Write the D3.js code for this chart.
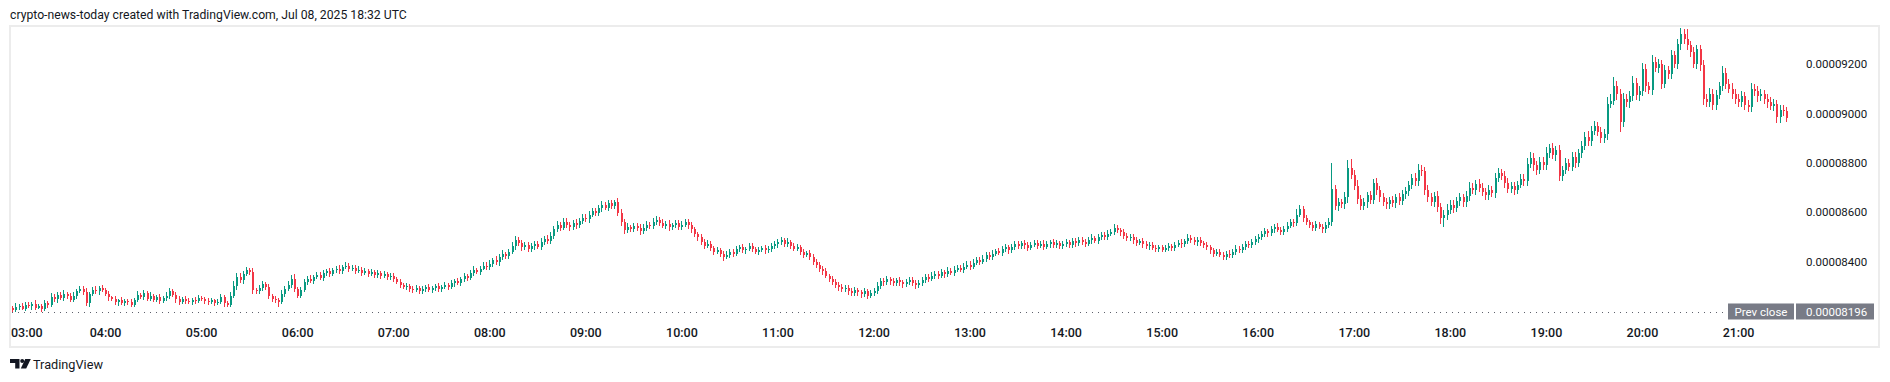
<!DOCTYPE html>
<html><head><meta charset="utf-8">
<script src="https://cdn.jsdelivr.net/npm/d3@7"></script>
<style>
html,body{margin:0;padding:0;background:#fff;}
svg{display:block;}
</style></head><body>
<svg id="chart" width="1890" height="382"></svg>
<script>
// ---- DATA (prices in units of 1e-8) ----
const priceUnit = 1e-8;
const barMinutes = 2;
const firstOpen = 8205;
const prevClose = 8196;
const priceTicks = [8400, 8600, 8800, 9000, 9200];
const timeLabels = ["03:00","04:00","05:00","06:00","07:00","08:00","09:00","10:00","11:00","12:00","13:00","14:00","15:00","16:00","17:00","18:00","19:00","20:00","21:00"];
const titleText = "crypto-news-today created with TradingView.com, Jul 08, 2025 18:32 UTC";

const closes = [
// 03
8212,8205,8218,8222,8210,8226,8219,8230,8214,8221,8208,8232,8225,8258,8247,8266,8252,8270,8261,8246,8262,8281,8290,8276,8232,8268,8287,8279,8292,8284,
// 04
8270,8255,8248,8236,8244,8231,8240,8238,8226,8243,8265,8258,8272,8250,8262,8245,8256,8240,8252,8260,8282,8266,8247,8236,8249,8241,8235,8246,8239,8252,
// 05
8248,8240,8236,8244,8232,8238,8255,8232,8226,8262,8300,8338,8325,8350,8366,8357,8285,8279,8292,8310,8296,8262,8250,8245,8238,8270,8290,8305,8330,8290,
// 06
8262,8285,8318,8330,8322,8338,8346,8335,8352,8360,8348,8365,8372,8361,8378,8384,8370,8376,8362,8368,8355,8362,8350,8357,8345,8352,8340,8348,8336,8342,
// 07
8330,8318,8305,8296,8302,8290,8284,8292,8280,8288,8296,8284,8292,8300,8288,8296,8305,8298,8312,8320,8312,8328,8340,8334,8352,8366,8358,8372,8384,8378,
// 08
8392,8405,8398,8418,8430,8422,8440,8462,8488,8476,8458,8466,8450,8462,8472,8460,8478,8492,8484,8505,8530,8548,8538,8562,8550,8540,8556,8548,8566,8578,
// 09
8572,8590,8604,8596,8615,8628,8618,8636,8625,8640,8598,8560,8528,8540,8532,8545,8536,8524,8538,8550,8545,8562,8570,8558,8546,8552,8540,8548,8556,8542,
// 10
8550,8562,8548,8530,8512,8498,8480,8465,8472,8455,8440,8448,8432,8420,8428,8440,8432,8450,8458,8445,8452,8462,8450,8440,8448,8456,8445,8452,8462,8470,
// 11
8478,8486,8472,8480,8465,8452,8458,8440,8428,8435,8418,8400,8385,8372,8360,8342,8330,8318,8305,8296,8288,8295,8280,8272,8284,8276,8268,8280,8262,8272,
// 12
8282,8300,8322,8316,8328,8320,8312,8324,8316,8308,8318,8326,8315,8305,8312,8326,8338,8330,8342,8350,8342,8356,8348,8362,8355,8368,8376,8366,8380,8388,
// 13
8380,8395,8408,8400,8412,8425,8418,8432,8442,8436,8450,8458,8446,8460,8470,8462,8474,8466,8456,8468,8476,8465,8472,8460,8470,8478,8466,8474,8462,8470,
// 14
8478,8468,8482,8474,8488,8480,8472,8486,8495,8485,8498,8508,8500,8512,8520,8535,8528,8518,8504,8495,8500,8486,8476,8482,8470,8462,8468,8456,8450,8458,
// 15
8448,8455,8462,8455,8468,8476,8470,8482,8496,8488,8478,8486,8475,8468,8458,8445,8432,8440,8428,8420,8432,8425,8440,8452,8445,8460,8472,8466,8480,8490,
// 16
8498,8510,8522,8515,8530,8542,8528,8520,8534,8546,8560,8556,8590,8612,8575,8560,8548,8538,8552,8540,8530,8548,8562,8692,8625,8640,8632,8660,8780,8752,
// 17
8708,8655,8625,8640,8668,8650,8720,8690,8660,8640,8632,8648,8636,8660,8645,8672,8686,8710,8740,8725,8770,8765,8690,8660,8640,8665,8620,8575,8590,8610,
// 18
8630,8615,8645,8660,8640,8665,8700,8690,8715,8700,8680,8668,8690,8676,8740,8758,8745,8720,8695,8705,8690,8712,8735,8725,8795,8820,8790,8770,8805,8790,
// 19
8840,8860,8830,8850,8745,8770,8800,8785,8825,8800,8840,8870,8905,8890,8930,8950,8925,8900,8915,9040,9050,9110,9080,8965,9060,9045,9070,9125,9075,9090,
// 20
9180,9110,9095,9210,9185,9200,9120,9175,9160,9235,9200,9280,9320,9300,9275,9250,9200,9260,9195,9060,9045,9080,9035,9075,9110,9165,9120,9100,9080,9060,
// 21
9045,9070,9035,9025,9100,9090,9070,9080,9060,9045,9030,9040,8985,9015,9010,8982
];

const wickUp = [
10,7,14,6,12,9,11,8,15,6,9,13,7,16,10,12,9,15,8,11,14,9,12,10,16,7,11,13,9,12,
9,12,7,11,6,13,9,8,12,10,15,8,11,9,13,7,10,12,9,15,10,8,9,12,6,10,13,8,9,11,
10,8,12,9,6,11,13,8,9,16,20,14,15,12,14,10,16,9,13,11,9,12,8,11,9,14,10,15,16,18,
9,13,12,10,15,9,12,10,14,9,15,10,12,13,9,16,10,12,9,13,10,12,9,15,10,12,9,13,10,12,
10,9,13,8,12,9,10,13,8,12,9,13,10,8,12,9,13,10,12,9,15,10,12,9,13,15,10,12,13,16,
13,10,16,12,15,10,13,16,15,12,10,13,15,12,10,13,16,12,15,13,16,15,12,13,16,10,13,15,12,16,
13,16,12,15,13,16,12,15,13,10,16,13,12,15,10,13,12,15,13,16,12,15,13,10,13,12,15,10,13,12,
15,12,10,13,12,9,13,10,15,12,10,13,9,12,15,10,13,12,10,13,9,12,15,10,13,9,12,10,13,15,
12,13,10,15,9,12,13,10,12,9,10,13,9,12,10,13,9,12,10,13,12,9,10,13,12,9,10,13,9,12,
10,16,13,10,12,9,13,10,12,9,13,10,12,9,13,12,10,13,15,10,12,13,10,15,12,13,10,12,15,13,
13,15,12,10,13,15,12,13,10,12,15,12,10,13,12,15,10,12,13,10,12,13,10,15,12,10,13,12,10,13,
12,10,13,15,12,10,13,12,15,10,13,12,10,15,13,16,12,10,13,12,10,13,12,10,13,12,10,13,12,10,
10,13,12,10,13,12,15,10,16,12,10,13,12,10,13,9,12,10,13,12,10,13,12,15,10,13,12,10,13,15,
13,12,15,10,13,12,15,13,10,16,13,12,22,16,13,12,10,13,12,10,13,12,15,108,18,16,15,22,32,36,
18,22,16,18,15,17,16,20,15,18,16,14,17,15,18,16,15,18,16,20,25,20,18,22,16,18,20,16,18,22,
18,20,16,18,15,20,22,18,16,20,18,16,20,17,18,22,16,20,18,16,18,16,20,18,24,22,18,16,20,18,
24,16,20,18,22,18,20,16,20,18,16,20,18,22,18,20,16,18,20,26,28,36,20,18,22,18,20,26,18,20,
24,20,18,26,18,20,16,22,18,20,18,20,26,20,40,18,20,18,16,20,18,22,18,20,18,26,20,18,24,18,
18,20,16,18,22,18,20,18,16,18,20,18,16,18,20,16
];

const wickDown = [
13,8,10,14,7,11,8,13,10,7,14,8,11,7,10,13,8,11,14,10,8,13,7,11,10,14,8,10,13,8,
10,13,8,11,14,7,10,13,8,11,7,10,13,8,11,10,7,13,8,10,11,8,14,10,7,13,8,11,10,7,
8,11,10,7,13,8,10,14,11,8,10,13,11,14,10,13,18,11,10,13,10,14,13,11,21,10,13,11,10,15,
11,10,8,13,10,11,8,10,13,11,10,8,13,10,11,8,13,10,11,8,13,10,11,8,10,13,11,8,10,11,
13,10,11,8,10,13,11,8,10,13,11,8,10,11,13,10,8,11,10,13,8,11,10,13,8,11,10,13,8,11,
10,13,11,14,10,13,11,10,14,13,16,11,13,10,14,11,13,10,14,11,13,10,14,11,13,16,11,14,10,13,
11,14,10,13,11,14,10,13,11,14,13,16,18,13,11,14,13,16,11,13,14,11,13,14,11,13,16,11,13,14,
13,11,14,13,11,14,13,16,11,13,14,11,13,16,11,13,14,11,13,10,14,11,13,10,14,11,13,10,14,11,
13,10,11,14,13,10,11,14,13,11,10,13,11,14,13,10,11,14,13,16,11,13,14,11,13,16,14,11,13,10,
11,13,10,14,11,13,10,11,13,14,10,11,13,14,11,10,13,11,10,13,11,10,13,11,10,13,11,10,13,11,
13,11,10,13,11,14,10,13,11,10,13,11,14,10,13,11,10,13,14,11,10,13,11,14,10,13,11,10,13,11,
10,13,11,14,10,13,11,10,13,11,14,10,13,11,10,13,11,14,13,10,11,13,14,10,13,11,14,10,13,11,
11,10,13,11,14,10,13,11,10,13,11,14,10,13,11,14,13,10,11,14,13,11,10,13,11,10,13,11,10,13,
13,11,10,14,11,13,10,14,11,13,10,14,13,11,16,13,11,14,13,10,14,13,11,16,18,20,16,18,22,18,
18,20,16,18,22,16,18,20,18,16,18,20,16,18,17,16,18,20,16,18,18,20,22,18,16,20,18,22,35,20,
18,20,16,18,20,17,18,16,20,18,16,20,18,16,20,18,16,20,18,17,20,18,16,20,18,16,22,18,16,20,
18,20,16,22,20,18,16,20,18,22,16,20,18,22,20,18,16,20,18,22,20,18,24,40,20,18,22,18,20,24,
20,22,18,20,18,22,20,18,20,22,18,20,22,18,20,22,18,20,22,24,20,18,22,20,18,20,22,18,20,22,
20,18,22,20,18,20,22,18,20,22,18,20,22,24,20,18
];

// ---- BUILD CANDLES ----
const t0 = new Date(Date.UTC(2025, 6, 8, 3, 0));
const candles = closes.map((c, i) => {
  const o = i === 0 ? firstOpen : closes[i - 1];
  return {
    t: new Date(t0.getTime() + i * barMinutes * 60000),
    o, c,
    h: Math.max(o, c) + wickUp[i],
    l: Math.min(o, c) - wickDown[i]
  };
});

// ---- LAYOUT ----
const svg = d3.select("#chart");
const UP = "#089981", DOWN = "#f23645";
const FONT = "Roboto, 'Liberation Sans', Arial, sans-serif";

const hourDate = s => new Date(Date.UTC(2025, 6, 8, +s.slice(0, 2), +s.slice(3, 5)));

const x = d3.scaleUtc()
  .domain([hourDate("03:00"), hourDate("21:00")])
  .range([9, 1738]);
const y = d3.scaleLinear()
  .domain([8400, 9200])
  .range([261.6, 64]);

// title
const title = svg.append("text")
  .attr("x", 10).attr("y", 19)
  .attr("font-family", FONT).attr("font-size", 12)
  .attr("fill", "#131722")
  .text(titleText);
{
  const w = title.node().getComputedTextLength();
  title.attr("font-size", 12 * 397 / w);
}

// frame
svg.append("rect")
  .attr("x", 10).attr("y", 26)
  .attr("width", 1869).attr("height", 321)
  .attr("fill", "none")
  .attr("stroke", "#ececec")
  .attr("stroke-width", 2);

// clip for plot
svg.append("clipPath").attr("id", "plotclip")
  .append("rect").attr("x", 11).attr("y", 27).attr("width", 1780).attr("height", 296);

// prev close dotted line
svg.append("line")
  .attr("x1", 12).attr("x2", 1727)
  .attr("y1", Math.round(y(prevClose)) + 0.5).attr("y2", Math.round(y(prevClose)) + 0.5)
  .attr("stroke", "#5d606b")
  .attr("stroke-width", 1)
  .attr("stroke-dasharray", "1,5");

// candles
const cg = svg.append("g").attr("clip-path", "url(#plotclip)").attr("shape-rendering", "crispEdges");
const cand = cg.selectAll("g.c").data(candles).join("g").attr("class", "c");
cand.append("rect")
  .attr("x", d => Math.round(x(d.t)))
  .attr("width", 1)
  .attr("y", d => y(d.h))
  .attr("height", d => Math.max(1, y(d.l) - y(d.h)))
  .attr("fill", d => d.c >= d.o ? UP : DOWN);
cand.append("rect")
  .attr("x", d => Math.round(x(d.t)) - 0.5)
  .attr("width", 2)
  .attr("y", d => y(Math.max(d.o, d.c)))
  .attr("height", d => Math.max(1, y(Math.min(d.o, d.c)) - y(Math.max(d.o, d.c))))
  .attr("fill", d => d.c >= d.o ? UP : DOWN);

// time axis
const xAxis = d3.axisBottom(x)
  .tickValues(timeLabels.map(hourDate))
  .tickFormat((d, i) => timeLabels[i])
  .tickSize(0).tickPadding(0);
const xg = svg.append("g").attr("transform", "translate(0,337)").call(xAxis);
xg.select(".domain").remove();
xg.selectAll("text")
  .attr("dy", null).attr("y", 0)
  .attr("font-family", FONT).attr("font-size", 12.5).attr("font-weight", 500)
  .attr("fill", "#131722");
xg.selectAll(".tick").each(function () {
  const t = d3.select(this).select("text");
  const w = t.node().getComputedTextLength();
  const tr = d3.select(this).attr("transform");
  const tx = +tr.match(/translate\(([-\d.]+)/)[1];
  if (tx - w / 2 < 11) t.attr("x", 11 + w / 2 - tx);
});

// price axis
const yAxis = d3.axisRight(y)
  .tickValues(priceTicks)
  .tickFormat(d => (d * priceUnit).toFixed(8))
  .tickSize(0).tickPadding(0);
const yg = svg.append("g").attr("transform", "translate(1806,0)").call(yAxis);
yg.select(".domain").remove();
yg.selectAll("text")
  .attr("font-family", FONT).attr("font-size", 11.5)
  .attr("fill", "#131722");

// prev close labels
const pcY = y(prevClose);
svg.append("rect").attr("x", 1728).attr("y", pcY - 8.5).attr("width", 66).attr("height", 16).attr("fill", "#787b86");
svg.append("rect").attr("x", 1796).attr("y", pcY - 8.5).attr("width", 78).attr("height", 16).attr("fill", "#787b86");
svg.append("text").attr("x", 1761).attr("y", pcY).attr("dy", "0.35em")
  .attr("text-anchor", "middle").attr("font-family", FONT).attr("font-size", 11.5)
  .attr("fill", "#ffffff").text("Prev close");
svg.append("text").attr("x", 1806).attr("y", pcY).attr("dy", "0.35em")
  .attr("font-family", FONT).attr("font-size", 11.5)
  .attr("fill", "#ffffff").text((prevClose * priceUnit).toFixed(8));

// TradingView logo
const logo = svg.append("g").attr("fill", "#131722");
logo.append("path").attr("d", "M10,359 H19.5 V368.5 H15.2 V363 H10 Z");
logo.append("circle").attr("cx", 22.2).attr("cy", 361).attr("r", 2);
logo.append("path").attr("d", "M25.2,359 H30.8 L26.2,368.5 H20.8 Z");
const tvText = logo.append("text").attr("x", 33).attr("y", 368.5)
  .attr("font-family", FONT).attr("font-size", 13).text("TradingView");
{
  const w = tvText.node().getComputedTextLength();
  tvText.attr("font-size", 13 * 70 / w);
}
</script>
</body></html>
